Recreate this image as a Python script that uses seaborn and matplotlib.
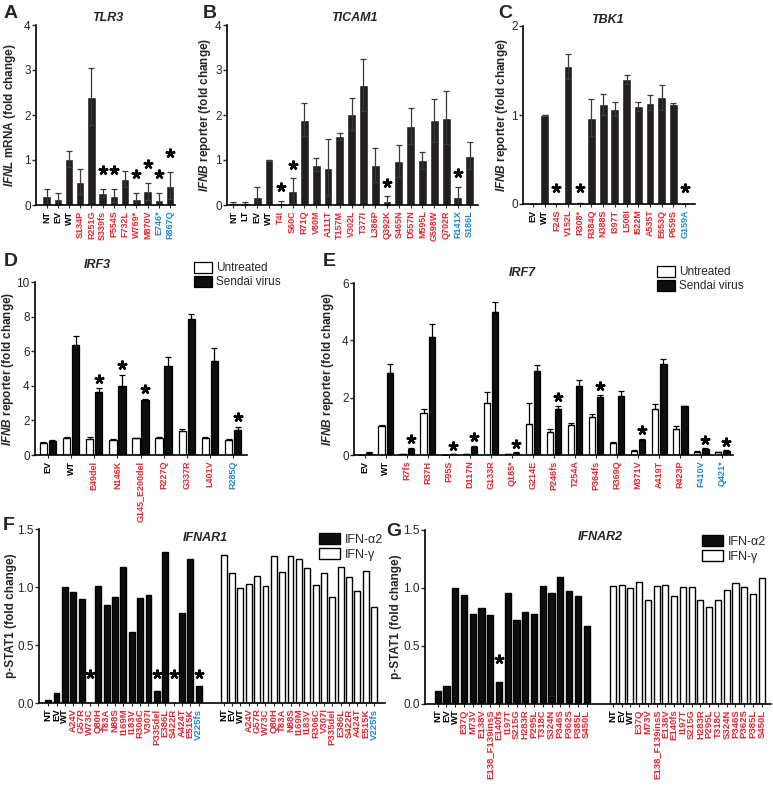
import numpy as np
import pandas as pd
import matplotlib
matplotlib.use('Agg')
import matplotlib.pyplot as plt
import seaborn as sns

sns.set_style('ticks')
plt.rcParams['font.family'] = ['Liberation Sans', 'DejaVu Sans']
plt.rcParams['mathtext.fontset'] = 'custom'
plt.rcParams['mathtext.it'] = 'Liberation Sans:italic:bold'
plt.rcParams['mathtext.rm'] = 'Liberation Sans:bold'
plt.rcParams['mathtext.bf'] = 'Liberation Sans:bold'

# ---------------- datos ----------------
# A - TLR3
tlr3_cat = ['NT', 'EV', 'WT', 'S134P', 'R251G', 'S339fs', 'P554S', 'F732L', 'W769*', 'M870V', 'E746*', 'R867Q']
tlr3_val = [0.19, 0.13, 1.02, 0.52, 2.41, 0.27, 0.21, 0.58, 0.14, 0.31, 0.12, 0.43]
tlr3_err = [0.16, 0.13, 0.18, 0.27, 0.63, 0.09, 0.14, 0.18, 0.13, 0.19, 0.15, 0.30]
tlr3_star = ['S339fs', 'P554S', 'W769*', 'M870V', 'E746*', 'R867Q']
tlr3_blue = ['E746*', 'R867Q']

# B - TICAM1
ticam1_cat = ['NT', 'LT', 'EV', 'WT', 'T4I', 'S60C', 'R71Q', 'V80M', 'A111T', 'T157M', 'V302L', 'T377I',
              'L386P', 'Q392K', 'S465N', 'D557N', 'M595L', 'G598W', 'Q702R', 'R141X', 'S186L']
ticam1_val = [0.05, 0.04, 0.17, 1.0, 0.04, 0.32, 1.9, 0.9, 0.83, 1.53, 2.02, 2.67,
              0.89, 0.1, 0.98, 1.76, 0.99, 1.88, 1.94, 0.18, 1.1]
ticam1_err = [0.02, 0.02, 0.22, 0.0, 0.06, 0.27, 0.36, 0.14, 0.63, 0.08, 0.35, 0.57,
              0.38, 0.09, 0.36, 0.4, 0.18, 0.47, 0.59, 0.23, 0.29]
ticam1_star = ['T4I', 'S60C', 'Q392K', 'R141X']
ticam1_blue = ['R141X', 'S186L']

# C - TBK1
tbk1_cat = ['EV', 'WT', 'F24S', 'V152L', 'R308*', 'R384Q', 'N388S', 'I397T', 'L508I', 'I522M',
            'A535T', 'E653Q', 'P659S', 'G159A']
tbk1_val = [0.005, 1.0, 0.005, 1.55, 0.01, 0.97, 1.12, 1.07, 1.4, 1.1, 1.14, 1.2, 1.12, 0.005]
tbk1_err = [0.0, 0.0, 0.0, 0.14, 0.0, 0.21, 0.12, 0.08, 0.05, 0.05, 0.08, 0.14, 0.01, 0.0]
tbk1_star = ['F24S', 'R308*', 'G159A']
tbk1_blue = ['G159A']

# D - IRF3
irf3_cat = ['EV', 'WT', 'E49del', 'N146K', 'G145_E200del', 'R227Q', 'G337R', 'L401V', 'R285Q']
irf3_unt = [0.72, 1.0, 0.94, 0.87, 0.96, 0.96, 1.4, 0.96, 0.88]
irf3_unt_err = [0.03, 0.06, 0.1, 0.06, 0.04, 0.1, 0.1, 0.08, 0.06]
irf3_sen = [0.8, 6.33, 3.65, 4.0, 3.17, 5.13, 7.88, 5.44, 1.46]
irf3_sen_err = [0.08, 0.55, 0.2, 0.63, 0.08, 0.54, 0.25, 0.76, 0.17]
irf3_star = ['E49del', 'N146K', 'G145_E200del', 'R285Q']
irf3_blue = ['R285Q']

# E - IRF7
irf7_cat = ['EV', 'WT', 'R7fs', 'R37H', 'F95S', 'D117N', 'G133R', 'Q185*', 'G214E', 'P246fs',
            'T254A', 'P364fs', 'R369Q', 'M371V', 'A419T', 'R423P', 'F410V', 'Q421*']
irf7_unt = [0.01, 1.0, 0.02, 1.45, 0.01, 0.04, 1.8, 0.03, 1.09, 0.8,
            1.03, 1.33, 0.43, 0.15, 1.61, 0.92, 0.12, 0.09]
irf7_unt_err = [0.0, 0.06, 0.0, 0.16, 0.0, 0.01, 0.4, 0.01, 0.71, 0.1,
                0.07, 0.09, 0.02, 0.02, 0.18, 0.09, 0.02, 0.02]
irf7_sen = [0.08, 2.87, 0.21, 4.13, 0.02, 0.27, 4.99, 0.08, 2.92, 1.59,
            2.42, 2.02, 2.07, 0.53, 3.19, 1.7, 0.22, 0.14]
irf7_sen_err = [0.01, 0.32, 0.05, 0.43, 0.01, 0.05, 0.34, 0.01, 0.21, 0.13,
                0.18, 0.08, 0.16, 0.04, 0.15, 0.01, 0.02, 0.02]
irf7_star = ['R7fs', 'F95S', 'D117N', 'Q185*', 'P246fs', 'P364fs', 'M371V', 'F410V', 'Q421*']
irf7_blue = ['F410V', 'Q421*']

# F - IFNAR1
ifnar1_cat = ['NT', 'EV', 'WT', 'A24V', 'G57R', 'W73C', 'Q80H', 'T83A', 'N88S', 'I169M', 'I183V',
              'R306C', 'V307I', 'P335del', 'E386L', 'S422R', 'A424T', 'E515K', 'V225fs']
ifnar1_a2 = [0.026, 0.086, 1.0, 0.96, 0.9, 0.0, 1.01, 0.845, 0.91, 1.17, 0.61,
             0.905, 0.935, 0.106, 1.3, 0.0, 0.776, 1.24, 0.144]
ifnar1_gam = [1.276, 1.118, 0.99, 1.03, 1.095, 1.006, 1.267, 1.132, 1.27, 1.24, 1.167,
              1.017, 1.12, 0.917, 1.17, 1.083, 0.968, 1.138, 0.83]
ifnar1_star = ['W73C', 'P335del', 'S422R', 'V225fs']
ifnar1_blue = ['V225fs']

# G - IFNAR2
ifnar2_cat_a2 = ['NT', 'EV', 'WT', 'E37Q', 'M73V', 'E138V', 'E138_F139insS', 'E140fs', 'I197T', 'S215G',
                 'H283R', 'P295L', 'T318C', 'S324N', 'P346S', 'P362S', 'P385L', 'S450L']
ifnar2_a2 = [0.11, 0.152, 1.0, 0.94, 0.78, 0.83, 0.77, 0.19, 0.96, 0.72,
             0.79, 0.78, 1.02, 0.96, 1.095, 0.97, 0.93, 0.67]
ifnar2_cat_gam = ['NT', 'EV', 'WT', 'E37Q', 'M73V', 'E138_F139insS', 'E138V', 'E140fs', 'I197T', 'S215G',
                  'H283R', 'P295L', 'T318C', 'S324N', 'P346S', 'P362S', 'P385L', 'S450L']
ifnar2_gam = [1.02, 1.03, 1.0, 1.05, 0.9, 1.015, 1.025, 0.93, 1.005, 1.005,
              0.9, 0.835, 0.9, 0.98, 1.04, 1.01, 0.95, 1.09]
ifnar2_star = ['E140fs']
ifnar2_blue = []

# ---------------- estilo ----------------
W, H = 773, 786
BAR = '#231f20'
RED = '#f0232d'
BLUE = '#1e88d9'
CONTROLS = {'NT', 'EV', 'WT', 'LT'}
YLAB_IFNB = r'$IFNB$ reporter (fold change)'
YLAB_STAT = 'p-STAT1 (fold change)'

fig = plt.figure(figsize=(W / 100, H / 100), dpi=100)


def px_axes(left, top, right, bottom):
    return fig.add_axes([left / W, 1 - bottom / H, (right - left) / W, (bottom - top) / H])


def colour_of(name, blue):
    if name in CONTROLS:
        return 'black'
    return BLUE if name in blue else RED


def style_axes(ax, yticks, ylim, xlim, ylabel, ylab_x, left_px, width_px, title, title_xy, letter, letter_xy,
               tick_size=6.5):
    ax.set_ylim(*ylim)
    ax.set_xlim(*xlim)
    ax.set_yticks(yticks)
    ax.tick_params(axis='y', labelsize=8.5, length=2.8, width=1, pad=1.0)
    ax.tick_params(axis='x', labelsize=tick_size, length=2.5, width=0.8, pad=1.5)
    for lab in ax.get_xticklabels():
        lab.set_fontweight('bold')
    sns.despine(ax=ax)
    for s in ['left', 'bottom']:
        ax.spines[s].set_linewidth(1.2)
        ax.spines[s].set_color('black')
    ax.set_xlabel('')
    ax.set_ylabel(ylabel, fontsize=8.5, fontweight='bold')
    # ylab_x = centro del texto en px; la etiqueta se ancla por su borde derecho
    ax.yaxis.set_label_coords((ylab_x + 6 - left_px) / width_px, 0.5)
    fig.text(title_xy[0] / W, 1 - title_xy[1] / H, title, fontsize=9, fontweight='bold', style='italic',
             ha='center', va='center')
    fig.text(letter_xy[0] / W, 1 - letter_xy[1] / H, letter, fontsize=14, fontweight='bold',
             ha='left', va='center')


def star(ax, xs, ys):
    ax.plot(xs, ys, ls='none', marker=(5, 2, 0), ms=7, mew=1.7, color='black', clip_on=False)


def simple_panel(box, cats, vals, errs, stars, blue, yticks, ylim, xlim, ylabel, ylab_x, title, title_xy,
                 letter, letter_xy, star_gap):
    ax = px_axes(*box)
    df = pd.DataFrame({'mut': cats, 'val': vals})
    sns.barplot(data=df, x='mut', y='val', order=cats, color=BAR, saturation=1, width=0.75,
                errorbar=None, ax=ax)
    ax.errorbar(range(len(cats)), vals, yerr=errs, fmt='none', ecolor='#3a3a3a', elinewidth=0.9,
                capsize=2.3, capthick=0.9)
    sx = [cats.index(s) for s in stars]
    sy = [vals[i] + errs[i] + star_gap for i in sx]
    star(ax, sx, sy)
    ax.set_xticks(range(len(cats)))
    ax.set_xticklabels(cats, rotation=90)
    for lab, c in zip(ax.get_xticklabels(), cats):
        lab.set_color(colour_of(c, blue))
    style_axes(ax, yticks, ylim, xlim, ylabel, ylab_x, box[0], box[2] - box[0], title, title_xy,
               letter, letter_xy)
    return ax


def grouped_panel(box, cats, unt, unt_err, sen, sen_err, stars, blue, yticks, ylim, xlim, ylabel, ylab_x,
                  title, title_xy, letter, letter_xy, star_gap, legend_xy):
    ax = px_axes(*box)
    n = len(cats)
    df = pd.DataFrame({'mut': cats * 2,
                       'cond': ['Untreated'] * n + ['Sendai virus'] * n,
                       'val': unt + sen})
    sns.barplot(data=df, x='mut', y='val', hue='cond', order=cats, hue_order=['Untreated', 'Sendai virus'],
                palette=['white', '#0d0d0d'], edgecolor='black', linewidth=0.9, saturation=1, width=0.78,
                gap=0.18, errorbar=None, ax=ax)
    centres = []
    for cont, errs in zip(ax.containers, [unt_err, sen_err]):
        xs = [p.get_x() + p.get_width() / 2 for p in cont]
        hs = [p.get_height() for p in cont]
        centres.append(xs)
        ax.errorbar(xs, hs, yerr=[np.zeros(n), errs], fmt='none', ecolor='black', elinewidth=0.9,
                    capsize=2.0, capthick=0.9)
    sx = [centres[1][cats.index(s)] for s in stars]
    sy = [sen[cats.index(s)] + sen_err[cats.index(s)] + star_gap for s in stars]
    star(ax, sx, sy)
    ax.set_xticks(range(n))
    ax.set_xticklabels(cats, rotation=90)
    for lab, c in zip(ax.get_xticklabels(), cats):
        lab.set_color(colour_of(c, blue))
    handles, labels = ax.get_legend_handles_labels()
    ax.legend(handles, labels, loc='upper left', bbox_to_anchor=(legend_xy[0] / W, 1 - legend_xy[1] / H),
              bbox_transform=fig.transFigure, frameon=False, fontsize=8.5, handlelength=1.5,
              handleheight=1.0, handletextpad=0.35, labelspacing=0.15, borderpad=0, borderaxespad=0)
    style_axes(ax, yticks, ylim, xlim, ylabel, ylab_x, box[0], box[2] - box[0], title, title_xy,
               letter, letter_xy)
    return ax


def stat_panel(box, cats_a, vals_a, cats_g, vals_g, stars, blue, xlim, ylab_x, title, title_xy,
               letter, letter_xy, star_gap, star_floor, legend_xy):
    ax = px_axes(*box)
    keys_a = ['a_' + c for c in cats_a]
    keys_g = ['g_' + c for c in cats_g]
    order = keys_a + ['gap1', 'gap2'] + keys_g
    df = pd.DataFrame({'key': keys_a + keys_g,
                       'val': vals_a + vals_g,
                       'ifn': ['IFN-α2'] * len(keys_a) + ['IFN-γ'] * len(keys_g)})
    sns.barplot(data=df, x='key', y='val', hue='ifn', order=order, hue_order=['IFN-α2', 'IFN-γ'],
                palette=['#0d0d0d', 'white'], dodge=False, edgecolor='black', linewidth=1.0, saturation=1,
                width=0.7, errorbar=None, ax=ax)
    sx = [order.index('a_' + s) for s in stars]
    sy = [max(vals_a[cats_a.index(s)] + star_gap, star_floor) for s in stars]
    star(ax, sx, sy)
    pos = [order.index(k) for k in keys_a + keys_g]
    names = cats_a + cats_g
    ax.set_xticks(pos)
    ax.set_xticklabels(names, rotation=90)
    for lab, c in zip(ax.get_xticklabels(), names):
        lab.set_color(colour_of(c, blue))
    handles, labels = ax.get_legend_handles_labels()
    ax.legend(handles, labels, loc='upper left', bbox_to_anchor=(legend_xy[0] / W, 1 - legend_xy[1] / H),
              bbox_transform=fig.transFigure, frameon=False, fontsize=9, handlelength=1.7,
              handleheight=1.0, handletextpad=0.4, labelspacing=0.15, borderpad=0, borderaxespad=0)
    style_axes(ax, [0.0, 0.5, 1.0, 1.5], (0, 1.5), xlim, YLAB_STAT, ylab_x, box[0], box[2] - box[0],
               title, title_xy, letter, letter_xy, tick_size=6.8)
    ax.set_yticklabels(['0.0', '0.5', '1.0', '1.5'])
    return ax


# ---------------- paneles ----------------
simple_panel((36, 25, 175, 205), tlr3_cat, tlr3_val, tlr3_err, tlr3_star, tlr3_blue,
             [0, 1, 2, 3, 4], (0, 4), (-0.95, 11.45), r'$IFNL$ mRNA (fold change)', 12,
             'TLR3', (108, 18), 'A', (4, 14), 0.42)

simple_panel((227, 25, 478, 205), ticam1_cat, ticam1_val, ticam1_err, ticam1_star, ticam1_blue,
             [0, 1, 2, 3, 4], (0, 4), (-0.55, 20.7), YLAB_IFNB, 207,
             'TICAM1', (354, 18), 'B', (203, 14), 0.3)

simple_panel((523, 26, 695, 204), tbk1_cat, tbk1_val, tbk1_err, tbk1_star, tbk1_blue,
             [0, 1, 2], (0, 2), (-0.86, 13.86), YLAB_IFNB, 504,
             'TBK1', (607, 20), 'C', (498, 14), 0.17)

grouped_panel((35, 282, 247, 455), irf3_cat, irf3_unt, irf3_unt_err, irf3_sen, irf3_sen_err, irf3_star,
              irf3_blue, [0, 2, 4, 6, 8, 10], (0, 10), (-0.56, 8.6), YLAB_IFNB, 10,
              'IRF3', (97, 265), 'D', (4, 262), 0.55, (194, 262))

grouped_panel((354, 283, 733, 455), irf7_cat, irf7_unt, irf7_unt_err, irf7_sen, irf7_sen_err, irf7_star,
              irf7_blue, [0, 2, 4, 6], (0, 6), (-0.52, 17.52), YLAB_IFNB, 330,
              'IRF7', (522, 273), 'E', (323, 262), 0.3, (657, 266))

stat_panel((39, 529, 385, 703), ifnar1_cat, ifnar1_a2, ifnar1_cat, ifnar1_gam, ifnar1_star, ifnar1_blue,
           (-1.1, 40.3), 11, 'IFNAR1', (205, 538), 'F', (3, 525), 0.1, 0.25, (319, 533))

stat_panel((425, 530, 771, 704), ifnar2_cat_a2, ifnar2_a2, ifnar2_cat_gam, ifnar2_gam, ifnar2_star,
           ifnar2_blue, (-1.45, 38.06), 396, 'IFNAR2', (600, 537), 'G', (386, 531), 0.2, 0.25, (702, 535))

fig.savefig('out.png', dpi=100)
